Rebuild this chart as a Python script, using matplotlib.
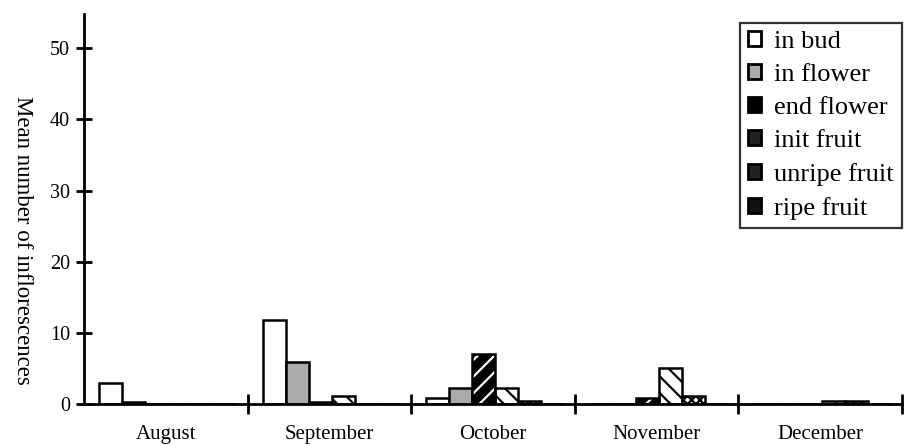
import matplotlib.pyplot as plt
import numpy as np

plt.rcParams['font.family'] = ['Liberation Serif', 'DejaVu Serif']
plt.rcParams['hatch.linewidth'] = 1.6

# Daten
months = ["August", "September", "October", "November", "December"]
in_bud = [2.9, 11.8, 0.8, 0.0, 0.0]
in_flower = [0.3, 5.9, 2.3, 0.0, 0.0]
end_flower = [0.0, 0.3, 7.1, 0.8, 0.0]
init_fruit = [0.0, 1.1, 2.2, 5.1, 0.4]
unripe_fruit = [0.0, 0.0, 0.4, 1.2, 0.4]
ripe_fruit = [0.0, 0.0, 0.0, 0.0, 0.0]
series_labels = ["in bud", "in flower", "end flower", "init fruit", "unripe fruit", "ripe fruit"]
yticks = [0, 10, 20, 30, 40, 50]

series = [in_bud, in_flower, end_flower, init_fruit, unripe_fruit, ripe_fruit]

# Stile je Serie: facecolor, hatch
styles = [
    dict(facecolor="white", hatch=None),
    dict(facecolor="#aaaaaa", hatch=None),
    dict(facecolor="black", hatch=None),   # weisse Streifen extra
    dict(facecolor="white", hatch="\\\\"),
    dict(facecolor="white", hatch="xxxx"),
    dict(facecolor="#111111", hatch=None),
]
# Legenden-Symbole (klein, meist dunkel)
handle_colors = ["white", "#aaaaaa", "black", "#222222", "#222222", "#111111"]

fig = plt.figure(figsize=(9.06, 4.46), dpi=100)
ax = fig.add_axes([0.0927, 0.094, 0.9029, 0.8746])

x = np.arange(len(months))
width = 0.1406
offset = 0.092

handles = []
for i, (vals, st) in enumerate(zip(series, styles)):
    left = x + offset + width * i
    if i == 2:
        # schwarzer Balken mit weissen Diagonalstreifen
        ax.bar(left, vals, width, align="edge", color="black", edgecolor="white",
               hatch="//", linewidth=0, zorder=2)
        ax.bar(left, vals, width, align="edge", fill=False, edgecolor="black",
               linewidth=1.8, zorder=3)
    else:
        ax.bar(left, vals, width, align="edge", facecolor=st["facecolor"],
               edgecolor="black", hatch=st["hatch"], linewidth=1.8, zorder=2)
    handles.append(plt.Rectangle((0, 0), 1, 1, facecolor=handle_colors[i],
                                 edgecolor="black", linewidth=2))

ax.set_xlim(0, 5)
ax.set_ylim(0, 54.8)

for s in ["top", "right"]:
    ax.spines[s].set_visible(False)
for s in ["left", "bottom"]:
    ax.spines[s].set_linewidth(2)

ax.set_yticks(yticks)
ax.set_yticklabels([str(t) for t in yticks], fontsize=14.5)
ax.tick_params(axis="y", direction="inout", length=12, width=2, pad=4)

ax.set_xticks([1, 2, 3, 4, 5])
ax.set_xticklabels([])
ax.tick_params(axis="x", which="major", direction="inout", length=14, width=2)
ax.set_xticks(x + 0.5, minor=True)
ax.set_xticklabels(months, minor=True, fontsize=15)
ax.tick_params(axis="x", which="minor", length=0, pad=15)

fig.text(0.025, 0.462, "Mean number of inflorescences", rotation=270,
         ha="center", va="center", fontsize=16.5)

leg = ax.legend(handles, series_labels, loc="upper right", bbox_to_anchor=(1.0, 0.977),
                fontsize=19, frameon=True, fancybox=False, edgecolor="black",
                handlelength=0.5, handleheight=0.5, handletextpad=0.5,
                labelspacing=0.42, borderpad=0.3, borderaxespad=0)
leg.get_frame().set_linewidth(1.6)

fig.savefig("out.png", dpi=100)
